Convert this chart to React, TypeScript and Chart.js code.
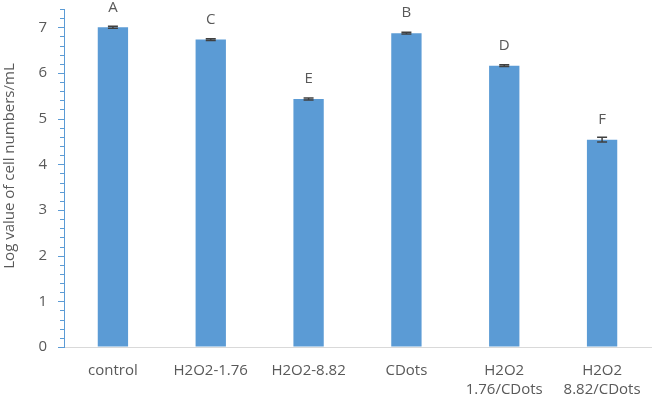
import React, { useEffect, useRef } from "react";
import { Chart, registerables } from "chart.js";

Chart.register(...registerables);

const categories: (string | string[])[] = [
  "control",
  "H2O2-1.76",
  "H2O2-8.82",
  "CDots",
  ["H2O2", "1.76/CDots"],
  ["H2O2", "8.82/CDots"],
];
const values = [7.0, 6.73, 5.43, 6.87, 6.16, 4.54];
const errors = [0.02, 0.02, 0.02, 0.02, 0.02, 0.05];
const letters = ["A", "C", "E", "B", "D", "F"];
const yTitle = "Log value of cell numbers/mL";
const yMin = 0;
const yMax = 7.4;
const minorStep = 0.2;

const FONT = "'Open Sans', 'DejaVu Sans', sans-serif";
const TEXT = "#595959";
const BAR = "#5B9BD5";

const overlayPlugin = {
  id: "overlay",
  afterDatasetsDraw(chart: any) {
    const ctx = chart.ctx;
    const meta = chart.getDatasetMeta(0);
    const ys = chart.scales.y;
    ctx.save();
    ctx.strokeStyle = "#404040";
    ctx.lineWidth = 1.5;
    meta.data.forEach((bar: any, i: number) => {
      const x = bar.x;
      const yTop = ys.getPixelForValue(values[i] + errors[i]);
      const yBot = ys.getPixelForValue(values[i] - errors[i]);
      ctx.beginPath();
      ctx.moveTo(x, yTop);
      ctx.lineTo(x, yBot);
      ctx.moveTo(x - 5, yTop);
      ctx.lineTo(x + 5, yTop);
      ctx.moveTo(x - 5, yBot);
      ctx.lineTo(x + 5, yBot);
      ctx.stroke();
    });
    ctx.fillStyle = TEXT;
    ctx.font = `15px ${FONT}`;
    ctx.textAlign = "center";
    ctx.textBaseline = "middle";
    meta.data.forEach((bar: any, i: number) => {
      const y = ys.getPixelForValue(values[i]) - 20;
      ctx.fillText(letters[i], bar.x, y);
    });
    ctx.restore();
  },
  afterDraw(chart: any) {
    const ctx = chart.ctx;
    const ys = chart.scales.y;
    const x0 = chart.chartArea.left;
    ctx.save();
    ctx.strokeStyle = BAR;
    ctx.lineWidth = 1;
    const n = Math.round((yMax - yMin) / minorStep);
    for (let k = 0; k <= n; k++) {
      const v = yMin + k * minorStep;
      const major = k % 5 === 0;
      const y = Math.round(ys.getPixelForValue(v)) + 0.5;
      ctx.beginPath();
      ctx.moveTo(x0 - (major ? 6 : 4), y);
      ctx.lineTo(x0, y);
      ctx.stroke();
    }
    // y-axis title
    ctx.translate(10, 166);
    ctx.rotate(-Math.PI / 2);
    ctx.fillStyle = TEXT;
    ctx.font = `15px ${FONT}`;
    ctx.textAlign = "center";
    ctx.textBaseline = "middle";
    ctx.fillText(yTitle, 0, 0);
    ctx.restore();
  },
};

export default function App() {
  const ref = useRef<HTMLCanvasElement>(null);
  useEffect(() => {
    if (!ref.current) return;
    const chart = new Chart(ref.current, {
      type: "bar",
      data: {
        labels: categories,
        datasets: [
          {
            data: values,
            backgroundColor: BAR,
            borderWidth: 0,
            categoryPercentage: 1,
            barPercentage: 0.31,
          },
        ],
      },
      options: {
        responsive: false,
        animation: false,
        layout: { padding: { top: 9, right: 1, left: 0, bottom: 0 } },
        plugins: {
          legend: { display: false },
          tooltip: { enabled: false },
        },
        scales: {
          x: {
            grid: { display: true, drawOnChartArea: false, drawTicks: false, color: "rgba(0,0,0,0)" },
            border: { display: true, color: "#D9D9D9", width: 1 },
            ticks: {
              color: TEXT,
              font: { family: FONT, size: 15, lineHeight: 1.27 },
              padding: 14,
              maxRotation: 0,
              autoSkip: false,
            },
            afterFit(scale: any) {
              scale.height = 53;
              scale.paddingLeft = 0;
              scale.paddingRight = 0;
            },
          },
          y: {
            min: yMin,
            max: yMax,
            grid: { display: true, drawOnChartArea: false, drawTicks: false, color: "rgba(0,0,0,0)" },
            border: { display: true, color: BAR, width: 1 },
            ticks: {
              stepSize: 1,
              includeBounds: false,
              color: TEXT,
              font: { family: FONT, size: 15 },
              padding: 17,
              callback: (v: any) => (Number.isInteger(v) ? String(v) : ""),
            },
            afterFit(scale: any) {
              scale.width = 64;
              scale.paddingTop = 0;
              scale.paddingBottom = 0;
            },
          },
        },
      },
      plugins: [overlayPlugin],
    });
    return () => chart.destroy();
  }, []);
  return (
    <div style={{ position: "fixed", left: 0, top: 0, width: 652, height: 400, background: "#fff" }}>
      <canvas ref={ref} width={652} height={400} style={{ display: "block" }} />
    </div>
  );
}
